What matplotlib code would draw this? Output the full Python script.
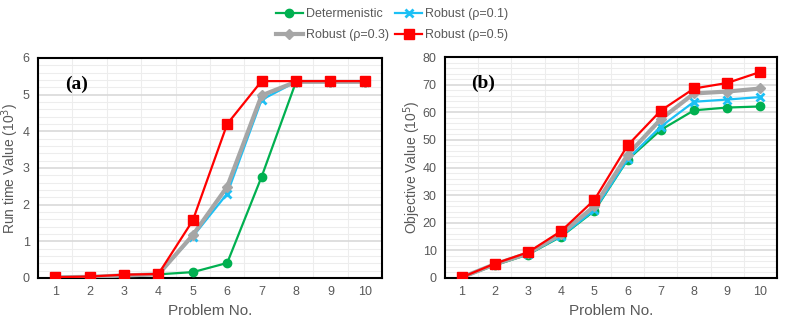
import matplotlib
matplotlib.use("Agg")
from matplotlib import pyplot as plt
from matplotlib.ticker import MultipleLocator

plt.rcParams['font.family'] = ['Liberation Sans Narrow', 'Liberation Sans', 'DejaVu Sans']

problems = list(range(1, 11))
labels = ["Determenistic", "Robust (ρ=0.1)", "Robust (ρ=0.3)", "Robust (ρ=0.5)"]

# run time (10^3)
rt_det = [0.02, 0.03, 0.05, 0.10, 0.16, 0.41, 2.76, 5.35, 5.35, 5.35]
rt_r01 = [0.02, 0.03, 0.06, 0.10, 1.13, 2.30, 4.86, 5.35, 5.35, 5.35]
rt_r03 = [0.02, 0.03, 0.07, 0.10, 1.17, 2.49, 4.98, 5.35, 5.35, 5.35]
rt_r05 = [0.02, 0.04, 0.09, 0.11, 1.57, 4.20, 5.37, 5.37, 5.37, 5.37]

# objective value (10^5)
ob_det = [0.1, 4.6, 8.5, 15.0, 24.3, 42.8, 53.6, 60.7, 61.7, 62.1]
ob_r01 = [0.2, 4.8, 8.6, 15.2, 24.6, 43.0, 54.8, 63.8, 64.6, 65.5]
ob_r03 = [0.2, 5.0, 8.9, 16.0, 26.0, 44.6, 57.5, 66.8, 67.5, 68.6]
ob_r05 = [0.2, 5.2, 9.3, 17.0, 28.3, 48.0, 60.6, 68.6, 70.6, 74.6]

colors = ['#00B050', '#1CC0F5', '#A6A6A6', '#FF0000']
markers = ['o', 'x', 'D', 's']
lws = [1.6, 1.6, 3.0, 1.6]
msz = [6, 6, 5, 7]
txt = '#595959'

fig = plt.figure(figsize=(7.87, 3.22), dpi=100)
ax1 = fig.add_axes([38/787, 1-278/322, 344/787, 220/322])
ax2 = fig.add_axes([445/787, 1-278/322, 332/787, 221/322])


def draw(ax, series, ymax, ymajor, yminor, ylabel, tag, ylab_x):
    for s, c, m, lw, ms, lb in zip(series, colors, markers, lws, msz, labels):
        ax.plot(problems, s, color=c, marker=m, lw=lw, ms=ms, label=lb,
                mew=2 if m == 'x' else 1, zorder=3)
    ax.set_xlim(0.5, 10.5)
    ax.set_ylim(0, ymax)
    ax.set_xticks(problems)
    ax.xaxis.set_minor_locator(MultipleLocator(0.5))
    ax.yaxis.set_major_locator(MultipleLocator(ymajor))
    ax.yaxis.set_minor_locator(MultipleLocator(yminor))
    ax.grid(which='major', axis='y', color='#D9D9D9', lw=1.2)
    ax.grid(which='minor', color='#EDEDED', lw=0.8)
    ax.tick_params(which='both', length=0, colors=txt, labelsize=9)
    ax.tick_params(axis='x', pad=6)
    ax.tick_params(axis='y', pad=6)
    for sp in ax.spines.values():
        sp.set_color('black')
        sp.set_linewidth(1.5)
    ax.set_ylabel(ylabel, color=txt, fontsize=10, va='center')
    ax.yaxis.set_label_coords(ylab_x, 0.5)
    ax.set_xlabel("Problem No.", color=txt, fontsize=11, labelpad=4)
    ax.text(0.08, 0.88, tag, transform=ax.transAxes, fontsize=14,
            fontweight='bold', family='Liberation Serif', va='center')


draw(ax1, [rt_det, rt_r01, rt_r03, rt_r05], 6, 1, 0.2,
     "Run time Value (10$^3$)", "(a)", (10 - 38) / 344)
draw(ax2, [ob_det, ob_r01, ob_r03, ob_r05], 80, 10, 2,
     "Objective Value (10$^5$)", "(b)", (412 - 445) / 332)

h, l = ax1.get_legend_handles_labels()
order = [0, 2, 1, 3]
fig.legend([h[i] for i in order], [l[i] for i in order], loc='upper center',
           bbox_to_anchor=(0.498, 1.01), ncol=2, frameon=False, fontsize=9,
           labelcolor=txt, handlelength=2.2, handletextpad=0.2,
           columnspacing=0.5, labelspacing=0.75)

plt.savefig("out.png", dpi=100)
